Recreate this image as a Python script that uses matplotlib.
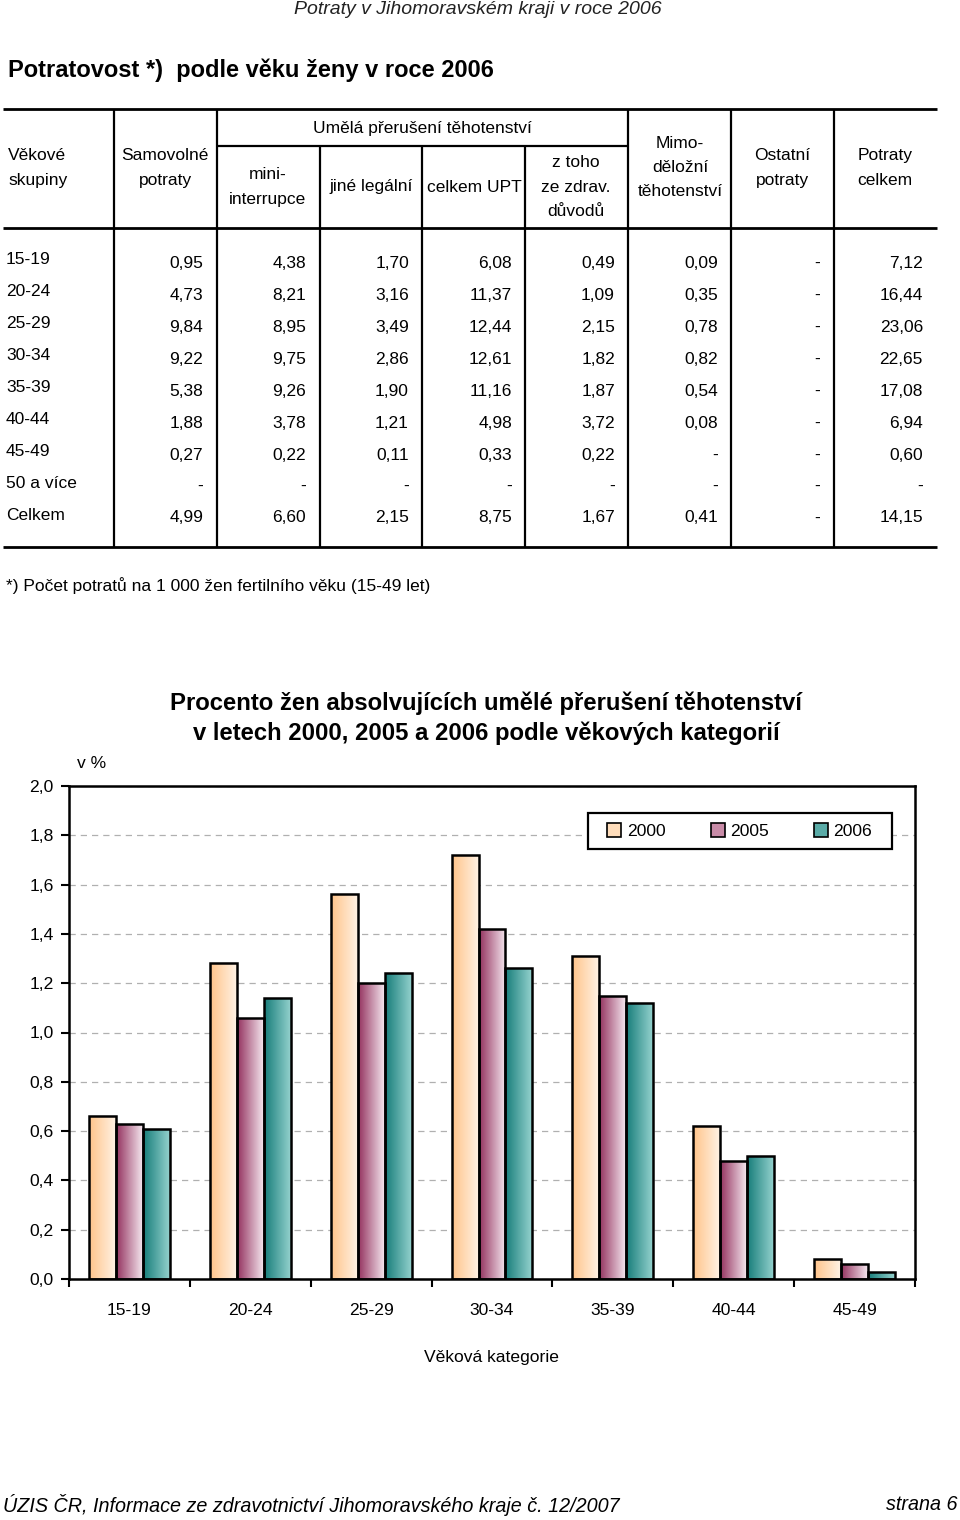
import numpy as np
import matplotlib
matplotlib.use('Agg')
import matplotlib.pyplot as plt
from matplotlib.colors import LinearSegmentedColormap
from matplotlib.patches import Patch, Rectangle

plt.rcParams['font.family'] = ['Liberation Sans', 'DejaVu Sans']

nan = np.nan

# --- table data (Potratovost podle věku ženy, 2006) ---
age_groups = ['15-19', '20-24', '25-29', '30-34', '35-39', '40-44', '45-49', '50 a více', 'Celkem']
samovolne = [0.95, 4.73, 9.84, 9.22, 5.38, 1.88, 0.27, nan, 4.99]
mini_interrupce = [4.38, 8.21, 8.95, 9.75, 9.26, 3.78, 0.22, nan, 6.60]
jine_legalni = [1.70, 3.16, 3.49, 2.86, 1.90, 1.21, 0.11, nan, 2.15]
celkem_upt = [6.08, 11.37, 12.44, 12.61, 11.16, 4.98, 0.33, nan, 8.75]
ze_zdrav = [0.49, 1.09, 2.15, 1.82, 1.87, 3.72, 0.22, nan, 1.67]
mimodelozni = [0.09, 0.35, 0.78, 0.82, 0.54, 0.08, nan, nan, 0.41]
ostatni = [nan, nan, nan, nan, nan, nan, nan, nan, nan]
potraty_celkem = [7.12, 16.44, 23.06, 22.65, 17.08, 6.94, 0.60, nan, 14.15]

# --- chart data (procento žen, UPT) ---
categories = ['15-19', '20-24', '25-29', '30-34', '35-39', '40-44', '45-49']
pct_2000 = [0.66, 1.28, 1.56, 1.72, 1.31, 0.62, 0.08]
pct_2005 = [0.63, 1.06, 1.20, 1.42, 1.15, 0.48, 0.06]
pct_2006 = [0.61, 1.14, 1.24, 1.26, 1.12, 0.50, 0.03]
years = ['2000', '2005', '2006']

W, H = 960, 1520
fig = plt.figure(figsize=(W / 100, H / 100), dpi=100)

# page axes in pixel coordinates
pg = fig.add_axes([0, 0, 1, 1])
pg.set_xlim(0, W)
pg.set_ylim(H, 0)
pg.axis('off')


def fmt(v):
    if np.isnan(v):
        return '-'
    return f"{v:.2f}".replace('.', ',')


def hline(y, x0, x1, lw=1.6):
    pg.plot([x0, x1], [y, y], color='black', lw=lw, solid_capstyle='butt')


def vline(x, y0, y1, lw=1.6):
    pg.plot([x, x], [y0, y1], color='black', lw=lw, solid_capstyle='butt')


pg.text(478, 10, 'Potraty v Jihomoravském kraji v roce 2006', ha='center', va='center',
        fontsize=14, style='italic', color='#222222')
pg.text(8, 70, 'Potratovost *)  podle věku ženy v roce 2006', ha='left', va='center',
        fontsize=17, fontweight='bold')

# table grid
top, mid, hdr, bot = 109, 146, 228, 547
hline(top, 3, 937, 2)
hline(mid, 217, 628)
hline(hdr, 3, 937, 2)
hline(bot, 3, 937, 2)
for x in [114, 217, 628, 731, 834]:
    vline(x, top, bot)
for x in [320, 422, 525]:
    vline(x, mid, bot)

fs = 12.5
ls = 1.8
pg.text(8, 168, 'Věkové\nskupiny', ha='left', va='center', fontsize=fs, linespacing=ls)
pg.text(165, 168, 'Samovolné\npotraty', ha='center', va='center', fontsize=fs, linespacing=ls)
pg.text(422, 128, 'Umělá přerušení těhotenství', ha='center', va='center', fontsize=fs)
pg.text(268, 187, 'mini-\ninterrupce', ha='center', va='center', fontsize=fs, linespacing=ls)
pg.text(371, 187, 'jiné legální', ha='center', va='center', fontsize=fs)
pg.text(474, 187, 'celkem UPT', ha='center', va='center', fontsize=fs)
pg.text(576, 187, 'z toho\nze zdrav.\ndůvodů', ha='center', va='center', fontsize=fs, linespacing=ls)
pg.text(680, 168, 'Mimo-\nděložní\ntěhotenství', ha='center', va='center', fontsize=fs,
        linespacing=1.75)
pg.text(782, 168, 'Ostatní\npotraty', ha='center', va='center', fontsize=fs, linespacing=ls)
pg.text(885, 168, 'Potraty\ncelkem', ha='center', va='center', fontsize=fs, linespacing=ls)

columns = [samovolne, mini_interrupce, jine_legalni, celkem_upt, ze_zdrav,
           mimodelozni, ostatni, potraty_celkem]
col_right = [203, 306, 409, 512, 615, 718, 820, 923]
row_y = [262, 294, 326, 358, 390, 422, 454, 485, 517]
for i, label in enumerate(age_groups):
    pg.text(6, row_y[i] - 2, label, ha='left', va='center', fontsize=fs)
    for c, col in enumerate(columns):
        pg.text(col_right[c], row_y[i] + 1, fmt(col[i]), ha='right', va='center', fontsize=fs)

pg.text(6, 586, '*) Počet potratů na 1 000 žen fertilního věku (15-49 let)', ha='left',
        va='center', fontsize=fs)

# chart titles
pg.text(486, 703, 'Procento žen absolvujících umělé přerušení těhotenství', ha='center',
        va='center', fontsize=17.2, fontweight='bold')
pg.text(486, 733, 'v letech 2000, 2005 a 2006 podle věkových kategorií', ha='center',
        va='center', fontsize=17.2, fontweight='bold')
pg.text(77, 763, 'v %', ha='left', va='center', fontsize=12.6)

# footer
pg.text(3, 1505, 'ÚZIS ČR, Informace ze zdravotnictví Jihomoravského kraje č. 12/2007',
        ha='left', va='center', fontsize=14.2, style='italic')
pg.text(957, 1505, 'strana 6', ha='right', va='center', fontsize=14.2, style='italic')

# --- bar chart ---
ax = fig.add_axes([69 / W, 1 - 1279 / H, (915 - 69) / W, (1279 - 786) / H])
ax.set_xlim(-0.5, len(categories) - 0.5)
ax.set_ylim(0, 2.0)

grads = [LinearSegmentedColormap.from_list('g0', ['#FFC48A', '#FFF2E4']),
         LinearSegmentedColormap.from_list('g1', ['#94325F', '#F4E6EE']),
         LinearSegmentedColormap.from_list('g2', ['#177D7A', '#93D1CD'])]
mids = ['#FFDDBB', '#C98CA8', '#5AABA7']

bw = 0.223
x = np.arange(len(categories))
grad_img = np.linspace(0, 1, 64).reshape(1, -1)
for k, vals in enumerate([pct_2000, pct_2005, pct_2006]):
    bars = ax.bar(x + (k - 1) * bw, vals, width=bw, facecolor='none', edgecolor='black',
                  linewidth=1.8, zorder=3)
    for b in bars:
        x0, w, h = b.get_x(), b.get_width(), b.get_height()
        im = ax.imshow(grad_img, cmap=grads[k], aspect='auto', extent=(x0, x0 + w, 0, h),
                       zorder=2, interpolation='bilinear')
        im.set_clip_path(b)
ax.set_xlim(-0.5, len(categories) - 0.5)
ax.set_ylim(0, 2.0)

yt = np.arange(0, 2.01, 0.2)
ax.set_yticks(yt)
ax.set_yticklabels([f"{v:.1f}".replace('.', ',') for v in yt], fontsize=12.6)
ax.set_xticks(x)
ax.set_xticklabels(categories, fontsize=12.6)
ax.set_xticks(np.arange(-0.5, len(categories), 1.0), minor=True)
ax.tick_params(axis='x', which='major', length=0, pad=17)
ax.tick_params(axis='x', which='minor', length=6, width=1.5, direction='out')
ax.tick_params(axis='y', length=6, width=1.5, direction='out', pad=5)
ax.yaxis.grid(True, linestyle=(0, (5, 4)), color='#B0B0B0', linewidth=0.9)
ax.set_axisbelow(True)
for s in ax.spines.values():
    s.set_linewidth(1.8)
ax.set_xlabel('Věková kategorie', fontsize=12.6, labelpad=23)

# legend: white framed box with the three entries centred in it
ax.add_patch(Rectangle((0.613, 0.872), 0.36, 0.073, transform=ax.transAxes,
                       facecolor='white', edgecolor='black', linewidth=1.6, zorder=4))
handles = [Patch(facecolor=mids[k], edgecolor='black', linewidth=1.2) for k in range(3)]
leg = ax.legend(handles, years, loc='center', bbox_to_anchor=(0.793, 0.9085),
                ncol=3, fontsize=12.6, frameon=False, handlelength=0.8, handleheight=0.8,
                handletextpad=0.3, columnspacing=2.6, borderaxespad=0)
leg.set_zorder(5)

fig.savefig('out.png', dpi=100, facecolor='white')
